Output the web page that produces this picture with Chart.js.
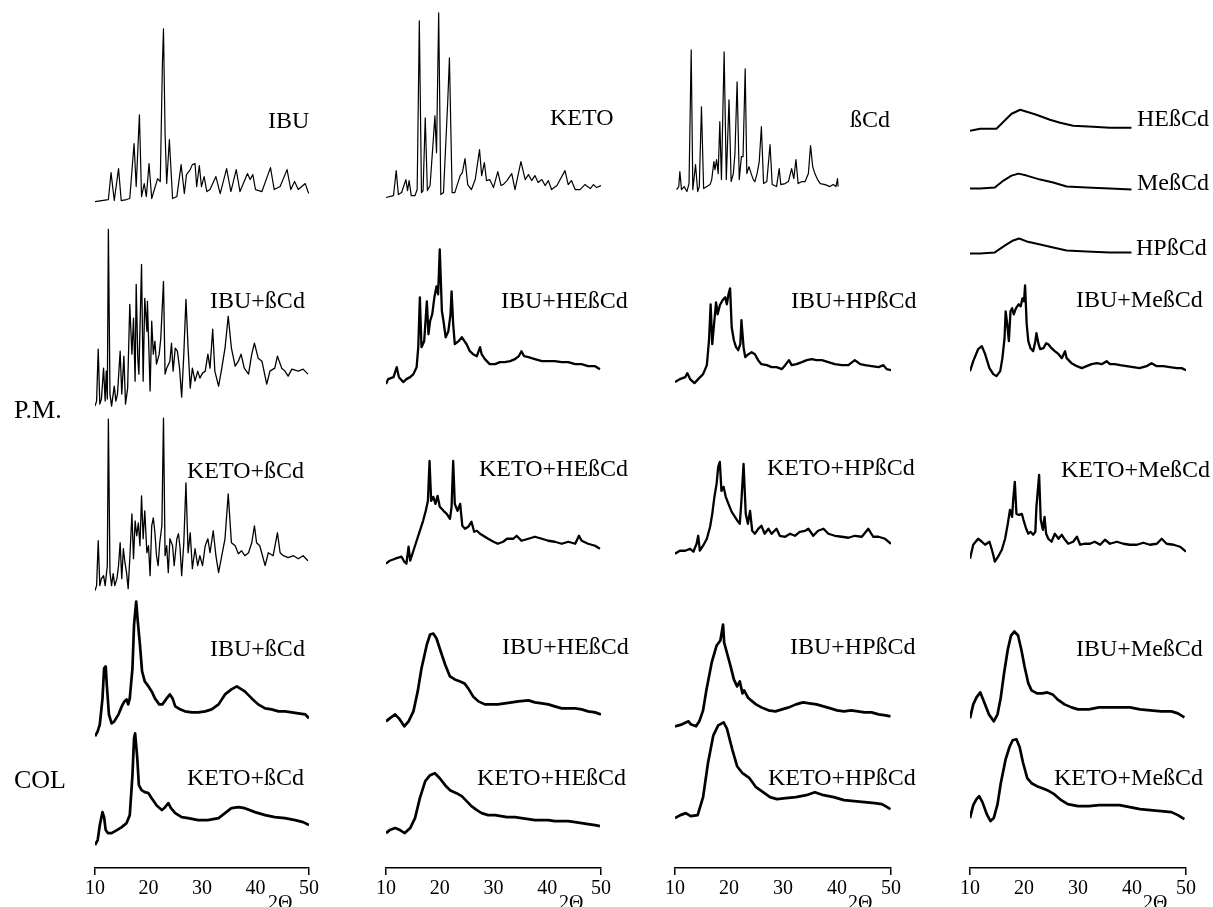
<!DOCTYPE html>
<html>
<head>
<meta charset="utf-8">
<script src="https://cdn.jsdelivr.net/npm/chart.js@4.4.0/dist/chart.umd.min.js"></script>
<style>
  body { margin: 0; background: #fff; width: 1213px; height: 907px; overflow: hidden; position: relative;
         font-family: 'Liberation Serif', 'Times New Roman', serif; }
  canvas { position: absolute; top: 0; }
  .lbl { position: absolute; font-size: 24px; line-height: 24px; white-space: nowrap; color: #000; }
  .side { font-size: 26px; line-height: 26px; }
  .ax { font-size: 20px; line-height: 20px; }
</style>
</head>
<body>
<canvas id="col1" width="330" height="907" style="left:0px"></canvas>
<canvas id="col2" width="300" height="907" style="left:340px"></canvas>
<canvas id="col3" width="270" height="907" style="left:640px"></canvas>
<canvas id="col4" width="283" height="907" style="left:930px"></canvas>
<div id="labels"></div>
<script>
// 2-theta ticks shared by every panel
const thetaTicks = [10, 20, 30, 40, 50];

// pure compounds, [2theta, intensity a.u.]
const ibu = [[10.0,0],[12.5,2],[13.0,29],[13.6,1],[14.4,33],[14.9,1],[15.9,2],[16.5,3],[17.3,58],[17.7,15],[18.3,87],[18.7,5],[19.2,18],[19.6,5],[20.1,38],[20.6,3],[21.7,23],[22.2,20],[22.6,138],[22.8,173],[23.1,68],[23.4,18],[23.9,62],[24.5,3],[25.3,5],[26.1,37],[26.7,8],[27.1,27],[27.8,32],[28.2,37],[28.7,38],[29.0,15],[29.5,36],[29.9,15],[30.4,25],[30.9,10],[31.5,12],[32.6,25],[33.4,8],[34.6,33],[35.4,10],[36.4,32],[37.1,10],[38.5,28],[39.0,22],[39.5,27],[40.0,12],[41.2,10],[42.8,34],[43.5,12],[44.6,15],[45.9,32],[46.6,12],[47.3,20],[48.0,12],[49.3,18],[49.8,10],[50.0,8]];
const keto = [[10.0,0],[11.4,2],[11.9,27],[12.3,3],[12.9,5],[13.7,18],[14.0,7],[14.3,17],[14.7,2],[15.4,2],[15.8,8],[16.2,177],[16.6,5],[16.9,7],[17.3,80],[17.7,7],[18.2,12],[18.5,35],[18.8,58],[19.1,82],[19.4,45],[19.8,185],[20.2,3],[20.7,5],[21.5,98],[21.8,140],[22.3,5],[22.8,5],[23.8,22],[24.2,25],[24.7,39],[25.2,13],[25.9,8],[26.6,18],[27.4,48],[27.8,22],[28.3,35],[28.7,17],[29.3,18],[30.0,10],[30.8,26],[31.4,12],[31.8,13],[32.5,17],[33.4,24],[34.0,8],[35.1,36],[35.9,18],[36.5,23],[37.1,17],[37.7,22],[38.3,15],[39.0,18],[39.6,12],[40.2,17],[40.8,8],[41.8,12],[43.3,27],[43.9,13],[44.5,17],[45.2,8],[46.1,8],[47.0,13],[48.0,9],[48.6,13],[49.2,10],[50.0,12]];
const bcd = [[10.3,2],[10.7,5],[10.9,20],[11.2,2],[11.7,5],[12.2,0],[12.6,8],[13.0,142],[13.3,2],[13.8,27],[14.2,0],[14.5,5],[14.9,85],[15.3,3],[15.9,5],[16.5,7],[16.8,12],[17.2,30],[17.4,22],[17.7,32],[18.0,18],[18.3,70],[18.6,12],[19.1,140],[19.5,12],[20.0,92],[20.4,10],[20.8,18],[21.1,38],[21.5,110],[21.9,12],[22.3,35],[22.6,35],[23.0,123],[23.3,18],[23.7,25],[24.1,18],[24.5,12],[24.8,10],[25.2,18],[25.6,30],[26.0,65],[26.4,8],[27.0,10],[27.6,47],[28.0,7],[28.8,5],[29.3,23],[29.6,7],[30.4,8],[31.0,10],[31.6,23],[32.0,13],[32.4,32],[32.8,8],[33.5,10],[34.1,10],[34.7,18],[35.1,46],[35.5,25],[35.9,18],[36.4,12],[36.9,8],[37.8,7],[38.7,5],[39.3,7],[39.8,5],[40.1,13],[40.2,5]];
const heBcd = [[10.0,0],[11.9,2],[14.9,2],[16.2,9],[17.7,17],[19.3,21],[20.5,19],[22.3,16],[24.8,11],[26.7,8],[29.1,5],[32.8,4],[35.9,3],[39.9,3]];
const meBcd = [[10.0,0],[11.9,0],[14.6,1],[16.2,8],[17.7,13],[19.0,15],[20.5,13],[23.0,9],[25.4,6],[27.9,2],[31.6,1],[35.9,0],[39.9,-1]];
const hpBcd = [[10.0,0],[11.9,0],[14.6,1],[16.5,8],[18.0,13],[19.1,15],[20.5,12],[23.0,9],[25.4,6],[27.9,3],[31.6,2],[35.9,1],[39.9,1]];

// physical mixtures (P.M.)
const pmIbuBcd = [[10.0,0],[10.3,5],[10.6,57],[10.9,2],[11.2,7],[11.6,38],[11.9,5],[12.1,35],[12.3,7],[12.5,177],[12.8,12],[13.1,0],[13.6,20],[13.9,5],[14.2,12],[14.7,55],[15.0,12],[15.4,50],[15.7,2],[16.1,18],[16.5,102],[16.9,52],[17.2,88],[17.5,25],[17.7,122],[18.0,48],[18.2,32],[18.7,142],[19.0,25],[19.3,108],[19.7,75],[19.8,105],[20.1,52],[20.3,15],[20.6,85],[20.9,52],[21.2,65],[21.5,42],[22.0,52],[22.3,68],[22.8,125],[23.1,32],[23.4,38],[24.0,45],[24.3,63],[24.6,35],[25.0,58],[25.4,55],[25.8,38],[26.2,9],[26.6,52],[27.0,107],[27.4,58],[27.8,18],[28.2,38],[28.7,25],[29.2,35],[29.6,28],[30.1,33],[30.6,35],[31.1,52],[31.5,38],[32.0,77],[32.4,35],[33.1,20],[33.7,38],[34.3,58],[34.9,90],[35.5,58],[36.2,40],[36.8,45],[37.3,52],[37.9,38],[38.7,32],[39.3,52],[39.8,63],[40.5,48],[41.2,45],[42.1,22],[42.7,35],[43.6,38],[44.1,50],[44.9,38],[45.5,35],[46.1,30],[46.8,37],[48.0,35],[48.9,37],[49.8,32]];
const pmKetoBcd = [[10.0,0],[10.3,5],[10.6,50],[10.9,5],[11.2,12],[11.6,15],[11.9,5],[12.3,25],[12.5,172],[12.8,18],[13.1,5],[13.4,17],[13.7,5],[14.1,12],[14.4,25],[14.7,48],[15.0,12],[15.3,42],[15.6,28],[15.9,18],[16.2,2],[16.5,32],[16.9,77],[17.2,32],[17.5,70],[17.8,55],[18.1,68],[18.4,45],[18.7,95],[19.0,52],[19.3,80],[19.7,38],[20.0,45],[20.3,15],[20.6,65],[20.9,73],[21.2,58],[21.5,35],[21.8,25],[22.1,48],[22.5,65],[22.8,173],[23.1,35],[23.4,45],[23.7,18],[24.0,52],[24.5,45],[24.8,25],[25.3,52],[25.6,57],[25.9,43],[26.2,15],[26.6,48],[27.0,108],[27.4,38],[27.8,58],[28.2,22],[28.7,42],[29.2,25],[29.6,35],[30.1,25],[30.6,45],[31.1,52],[31.5,38],[32.1,60],[32.6,35],[33.1,18],[33.7,35],[34.3,52],[34.9,97],[35.5,48],[36.2,45],[36.8,37],[37.4,40],[38.0,35],[38.7,38],[39.3,48],[39.8,65],[40.2,48],[40.8,45],[41.8,25],[42.4,38],[43.3,35],[44.1,58],[44.6,38],[45.2,35],[46.1,33],[47.1,35],[48.0,32],[48.9,35],[49.8,30]];
const pmIbuHe = [[10.0,0],[10.4,5],[11.4,7],[12.0,17],[12.4,7],[13.2,2],[13.8,5],[14.5,7],[15.1,10],[15.7,17],[16.0,37],[16.3,87],[16.6,37],[17.1,43],[17.6,83],[17.9,50],[18.2,63],[18.6,70],[19.0,87],[19.4,98],[19.7,90],[20.0,135],[20.4,73],[20.7,63],[21.1,47],[21.6,53],[22.0,70],[22.2,93],[22.5,60],[22.8,40],[23.5,43],[24.1,47],[24.6,43],[25.0,40],[25.6,33],[26.2,30],[26.9,28],[27.5,37],[27.8,30],[28.4,25],[29.3,20],[30.3,20],[31.2,22],[32.1,22],[33.1,23],[34.0,25],[34.7,28],[35.2,33],[35.7,28],[36.5,27],[37.7,25],[39.0,23],[40.2,23],[41.4,23],[42.7,22],[43.9,22],[45.2,20],[46.4,20],[47.6,18],[48.9,18],[49.8,15]];
const pmKetoHe = [[10.0,0],[10.7,3],[11.7,5],[12.9,7],[13.4,2],[13.8,0],[14.2,17],[14.5,3],[15.1,13],[15.7,23],[16.3,33],[16.9,43],[17.4,53],[17.8,63],[18.1,103],[18.4,63],[18.8,67],[19.2,60],[19.6,68],[20.0,57],[20.7,53],[21.3,50],[21.9,45],[22.2,57],[22.5,103],[22.8,60],[23.3,53],[23.8,60],[24.2,38],[24.7,35],[25.3,37],[25.9,42],[26.4,32],[26.9,33],[27.5,30],[28.1,28],[29.0,25],[30.0,22],[30.8,20],[31.8,22],[32.5,25],[33.7,25],[34.3,28],[35.2,23],[36.5,25],[37.7,27],[39.0,25],[40.2,23],[41.4,22],[42.7,20],[43.9,22],[45.2,20],[45.9,28],[46.4,23],[47.6,20],[48.9,18],[49.8,15]];
const pmIbuHp = [[10.0,0],[10.9,3],[11.9,5],[12.3,9],[12.8,3],[13.6,-1],[14.3,3],[15.2,8],[15.9,17],[16.3,42],[16.6,78],[16.9,38],[17.3,62],[17.6,80],[17.9,68],[18.3,77],[18.8,82],[19.3,85],[19.6,78],[19.9,88],[20.2,94],[20.5,55],[20.9,42],[21.3,35],[21.7,32],[22.1,38],[22.3,62],[22.7,35],[23.0,25],[23.6,28],[24.2,30],[24.8,28],[25.4,22],[26.0,18],[27.0,17],[27.9,15],[28.8,15],[29.8,13],[30.4,17],[31.1,22],[31.6,17],[32.5,18],[33.5,20],[34.4,22],[35.3,23],[36.2,22],[37.2,22],[38.4,20],[39.6,18],[40.9,17],[42.1,17],[43.3,22],[44.3,18],[45.2,17],[46.4,16],[47.7,15],[48.6,17],[49.2,13],[50.0,12]];
const pmKetoHp = [[10.0,0],[10.9,3],[11.9,3],[12.8,5],[13.4,2],[14.0,10],[14.3,18],[14.6,3],[15.2,8],[15.9,15],[16.5,27],[16.9,40],[17.3,57],[17.7,70],[18.0,87],[18.3,92],[18.6,63],[19.0,67],[19.4,57],[19.9,50],[20.5,42],[21.1,37],[21.7,32],[22.0,30],[22.3,53],[22.7,90],[23.1,40],[23.5,30],[23.9,43],[24.3,23],[24.8,20],[25.4,25],[26.0,28],[26.6,20],[27.3,25],[27.9,20],[28.8,25],[29.4,18],[30.4,17],[31.3,20],[32.2,18],[33.1,22],[34.1,23],[34.7,25],[35.6,18],[36.5,23],[37.5,25],[38.4,20],[39.6,18],[40.9,17],[42.1,16],[43.3,18],[44.6,17],[45.8,25],[46.7,17],[47.7,17],[48.9,15],[50.0,10]];
const pmIbuMe = [[10.0,5],[10.6,15],[11.5,27],[12.2,30],[12.8,22],[13.6,8],[14.3,2],[14.9,0],[15.6,5],[16.0,18],[16.4,38],[16.6,65],[16.9,52],[17.2,35],[17.5,65],[17.8,68],[18.1,62],[18.5,68],[19.0,72],[19.4,70],[19.7,78],[20.0,75],[20.2,91],[20.5,52],[20.8,35],[21.2,28],[21.7,25],[22.1,35],[22.3,43],[22.7,32],[23.0,27],[23.6,28],[24.1,33],[24.5,32],[25.1,28],[25.7,25],[26.4,22],[27.0,18],[27.6,25],[27.9,18],[28.8,13],[29.8,10],[30.7,8],[31.6,10],[32.5,12],[33.5,13],[34.4,12],[35.3,15],[35.9,12],[36.8,12],[37.8,11],[39.0,10],[40.2,9],[41.4,8],[42.7,10],[43.6,13],[44.6,10],[45.8,10],[47.0,9],[48.3,8],[49.2,8],[50.0,6]];
const pmKetoMe = [[10.0,3],[10.6,17],[11.5,23],[12.2,20],[12.8,17],[13.6,20],[14.0,13],[14.3,7],[14.6,0],[15.2,5],[15.9,12],[16.5,23],[17.0,38],[17.4,52],[17.8,45],[18.0,62],[18.3,80],[18.6,48],[19.1,47],[19.6,48],[19.9,42],[20.4,33],[20.8,28],[21.2,30],[21.7,27],[22.1,30],[22.3,55],[22.8,87],[23.1,42],[23.5,32],[23.8,45],[24.1,28],[24.5,23],[25.1,20],[25.7,28],[26.4,23],[27.0,27],[27.6,22],[28.2,18],[29.1,20],[29.8,25],[30.4,17],[31.3,18],[32.2,18],[33.1,20],[34.1,17],[35.0,22],[35.9,18],[37.2,20],[38.4,18],[39.6,17],[40.9,17],[42.1,19],[43.3,17],[44.6,18],[45.5,23],[46.4,18],[47.7,17],[48.9,15],[50.0,10]];

// coevaporated products (COL)
const colIbuBcd = [[10.0,0],[10.5,5],[10.9,12],[11.4,38],[11.7,68],[12.0,70],[12.2,52],[12.6,22],[13.1,13],[13.6,15],[14.4,22],[15.0,30],[15.5,35],[15.9,37],[16.2,32],[16.5,38],[17.0,68],[17.3,112],[17.7,135],[18.0,115],[18.4,92],[18.8,65],[19.3,55],[20.0,50],[20.6,45],[21.2,38],[22.0,32],[22.6,32],[23.4,38],[24.0,42],[24.5,38],[25.0,30],[25.9,27],[26.8,25],[28.1,24],[29.3,24],[30.6,25],[31.8,27],[33.1,32],[34.3,42],[35.5,47],[36.5,50],[37.1,48],[38.0,45],[39.3,38],[40.5,32],[41.8,28],[43.0,27],[44.3,25],[45.5,25],[46.8,24],[48.0,23],[49.3,22],[50.0,18]];
const colKetoBcd = [[10.0,0],[10.5,5],[10.9,20],[11.4,33],[11.7,28],[12.0,15],[12.4,12],[13.1,12],[14.1,15],[15.0,18],[15.9,22],[16.5,30],[17.0,70],[17.3,107],[17.5,112],[17.9,87],[18.2,60],[18.7,55],[19.3,53],[20.0,52],[20.6,47],[21.5,40],[22.5,35],[23.1,38],[23.7,42],[24.2,37],[25.0,32],[26.2,28],[27.4,27],[29.3,25],[31.1,25],[33.1,27],[34.3,32],[35.5,37],[36.8,38],[38.0,37],[39.9,33],[41.8,30],[43.6,28],[45.5,27],[47.4,25],[48.9,23],[50.0,20]];
const colIbuHe = [[10.0,0],[10.7,3],[11.7,7],[12.4,3],[13.4,-5],[14.2,0],[15.1,10],[15.9,30],[16.6,53],[17.6,77],[18.2,87],[18.8,88],[19.4,83],[20.0,73],[21.0,57],[21.9,45],[22.8,42],[23.8,40],[24.6,38],[25.3,33],[26.2,25],[27.2,20],[28.4,17],[29.7,17],[30.8,17],[32.1,18],[33.4,19],[34.6,20],[36.5,21],[37.7,19],[39.0,18],[40.2,17],[41.4,15],[42.7,13],[43.9,13],[45.2,13],[46.4,12],[47.6,10],[48.9,9],[50.0,7]];
const colKetoHe = [[10.0,0],[10.7,3],[11.7,5],[12.6,3],[13.5,0],[14.5,5],[15.4,15],[16.3,35],[17.3,52],[18.2,58],[19.1,60],[20.0,55],[21.0,48],[21.9,43],[23.1,40],[24.1,37],[25.0,32],[25.9,27],[26.9,23],[27.8,20],[29.0,18],[30.3,18],[31.4,17],[32.5,16],[34.0,16],[35.2,15],[36.5,14],[37.7,13],[39.0,13],[40.2,13],[41.4,12],[42.7,12],[43.9,12],[45.2,11],[46.4,10],[47.6,9],[48.9,8],[49.8,7]];
const colIbuHp = [[10.0,0],[11.3,2],[12.5,5],[12.9,2],[13.9,0],[14.5,5],[15.2,16],[15.8,36],[16.8,64],[17.7,81],[18.4,86],[18.9,102],[19.1,84],[19.6,74],[20.3,60],[20.9,47],[21.5,40],[22.0,45],[22.5,33],[22.8,36],[23.5,29],[24.1,26],[25.0,22],[26.0,19],[27.3,16],[28.6,15],[29.8,17],[31.1,19],[32.4,22],[33.7,24],[34.9,23],[36.2,22],[37.5,20],[38.8,18],[40.0,16],[41.3,15],[42.6,16],[43.9,15],[45.1,14],[46.4,14],[47.7,12],[49.0,11],[49.9,10]];
const colKetoHp = [[10.0,0],[11.0,3],[12.0,5],[12.9,2],[14.2,3],[15.2,21],[16.1,55],[17.1,83],[18.0,93],[19.0,96],[19.6,90],[20.6,69],[21.5,52],[22.5,45],[23.8,40],[25.0,31],[26.3,26],[27.6,21],[28.9,19],[30.5,20],[32.4,21],[34.3,23],[35.9,26],[37.5,23],[39.4,21],[41.3,18],[43.2,17],[45.1,16],[47.0,15],[48.3,14],[49.3,11],[49.9,9]];
const colIbuMe = [[10.0,3],[10.6,17],[11.2,24],[11.9,29],[12.5,21],[13.5,7],[14.4,0],[15.1,7],[15.7,24],[16.3,48],[17.0,72],[17.6,86],[18.2,90],[18.9,86],[19.5,72],[20.1,55],[20.8,38],[21.4,31],[22.4,28],[23.4,28],[24.3,29],[25.3,27],[26.2,22],[27.5,17],[28.8,14],[30.0,12],[32.0,12],[33.9,14],[35.8,14],[37.7,14],[39.6,14],[41.5,12],[43.4,11],[45.4,10],[47.3,10],[48.5,8],[49.7,4]];
const colKetoMe = [[10.0,3],[10.6,16],[11.2,22],[11.7,25],[12.3,19],[13.1,7],[13.8,0],[14.4,3],[15.1,17],[15.7,38],[16.6,62],[17.3,74],[17.9,81],[18.6,82],[19.2,74],[19.8,59],[20.6,43],[21.4,38],[22.4,35],[23.4,33],[24.3,31],[25.6,27],[26.9,21],[28.1,17],[30.0,15],[32.0,15],[33.9,16],[35.8,16],[37.7,16],[39.6,14],[41.5,12],[43.4,11],[45.4,10],[47.3,9],[48.5,6],[49.7,2]];

// layout: vertical offset of each trace above the axis (px), line width
const columns = [
  { id: 'col1', pad: { left: 95, right: 21 }, traces: [
    { values: ibu, offset: 668, width: 1.2 },
    { values: pmIbuBcd, offset: 463, width: 1.3 },
    { values: pmKetoBcd, offset: 278, width: 1.3 },
    { values: colIbuBcd, offset: 132, width: 2.7 },
    { values: colKetoBcd, offset: 23, width: 2.7 } ] },
  { id: 'col2', pad: { left: 46, right: 39 }, traces: [
    { values: keto, offset: 672, width: 1.2 },
    { values: pmIbuHe, offset: 485, width: 2.3 },
    { values: pmKetoHe, offset: 305, width: 2.3 },
    { values: colIbuHe, offset: 147, width: 2.7 },
    { values: colKetoHe, offset: 35, width: 2.7 } ] },
  { id: 'col3', pad: { left: 35, right: 19 }, traces: [
    { values: bcd, offset: 678, width: 1.2 },
    { values: pmIbuHp, offset: 487, width: 2.3 },
    { values: pmKetoHp, offset: 315, width: 2.3 },
    { values: colIbuHp, offset: 142, width: 2.7 },
    { values: colKetoHp, offset: 50, width: 2.7 } ] },
  { id: 'col4', pad: { left: 40, right: 27 }, traces: [
    { values: heBcd, offset: 739, width: 2 },
    { values: meBcd, offset: 681, width: 2 },
    { values: hpBcd, offset: 616, width: 2 },
    { values: pmIbuMe, offset: 493, width: 2.3 },
    { values: pmKetoMe, offset: 307, width: 2.3 },
    { values: colIbuMe, offset: 147, width: 2.7 },
    { values: colKetoMe, offset: 47, width: 2.7 } ] }
];

const traceLabels = [
  ['IBU', 268, 120], ['IBU+ßCd', 210, 300], ['KETO+ßCd', 187, 470], ['IBU+ßCd', 210, 648], ['KETO+ßCd', 187, 777],
  ['KETO', 550, 117], ['IBU+HEßCd', 501, 300], ['KETO+HEßCd', 479, 468], ['IBU+HEßCd', 502, 646], ['KETO+HEßCd', 477, 777],
  ['ßCd', 850, 119], ['IBU+HPßCd', 791, 300], ['KETO+HPßCd', 767, 467], ['IBU+HPßCd', 790, 646], ['KETO+HPßCd', 768, 777],
  ['HEßCd', 1137, 118], ['MeßCd', 1137, 182], ['HPßCd', 1136, 247], ['IBU+MeßCd', 1076, 299], ['KETO+MeßCd', 1061, 469],
  ['IBU+MeßCd', 1076, 648], ['KETO+MeßCd', 1054, 777]
];

function makeColumn(col) {
  const datasets = col.traces.map(t => ({
    data: t.values.map(p => ({ x: p[0], y: p[1] + t.offset })),
    borderColor: '#000',
    borderWidth: t.width,
    borderJoinStyle: 'round',
    pointRadius: 0,
    tension: 0,
    fill: false
  }));
  return new Chart(document.getElementById(col.id), {
    type: 'line',
    data: { datasets: datasets },
    options: {
      responsive: false,
      animation: false,
      devicePixelRatio: 1,
      layout: { padding: { left: col.pad.left, right: col.pad.right, top: 0, bottom: 4 } },
      plugins: { legend: { display: false }, tooltip: { enabled: false } },
      scales: {
        x: {
          type: 'linear', min: 10, max: 50,
          afterBuildTicks: axis => { axis.ticks = thetaTicks.map(v => ({ value: v })); },
          border: { display: true, color: '#000', width: 1.6 },
          grid: {
            drawOnChartArea: false, drawTicks: true, tickLength: 7, lineWidth: 1.5,
            color: c => (c.tick && (c.tick.value === 10 || c.tick.value === 50)) ? '#000' : 'rgba(0,0,0,0)'
          },
          ticks: { color: '#000', padding: 2, maxRotation: 0, autoSkip: false,
                   font: { family: 'Liberation Serif', size: 20 } }
        },
        y: { display: false, min: 0, max: 870 }
      }
    }
  });
}

columns.forEach(makeColumn);

// text labels
const box = document.getElementById('labels');
function addLabel(text, x, cy, cls, size) {
  const d = document.createElement('div');
  d.className = 'lbl' + (cls ? ' ' + cls : '');
  d.textContent = text;
  d.style.left = x + 'px';
  d.style.top = (cy - size / 2) + 'px';
  box.appendChild(d);
}
traceLabels.forEach(l => addLabel(l[0], l[1], l[2], '', 24));
addLabel('P.M.', 14, 410, 'side', 26);
addLabel('COL', 14, 780, 'side', 26);
[95, 386, 675, 970].forEach(x0 => addLabel('2Θ', x0 + 173, 902, 'ax', 20));
</script>
</body>
</html>
